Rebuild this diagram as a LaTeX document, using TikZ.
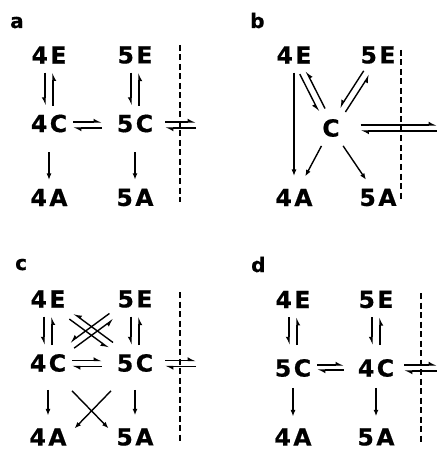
\documentclass[tikz,border=0pt]{standalone}
\usepackage{fontspec}
\setmainfont{DejaVu Sans}[BoldFeatures={FakeBold=0.6}]
\usetikzlibrary{arrows.meta,calc}

\newcommand{\gap}{\hspace{2.5bp}}

\begin{document}
\begin{tikzpicture}[
  x=1bp, y=-1bp,
  spec/.style={inner sep=0pt, outer xsep=6bp, outer ysep=9bp,
               font=\fontsize{23.5bp}{26bp}\selectfont\bfseries},
  tag/.style={anchor=base west, inner sep=0pt,
              font=\fontsize{20bp}{22bp}\selectfont\bfseries},
  rxn/.style={line width=1.4bp, -{Latex[length=6.5bp,width=5bp]}},
  hl/.style={line width=1.4bp, -{Latex[length=6.5bp,width=7bp,left]}},
  hr/.style={line width=1.4bp, -{Latex[length=6.5bp,width=7bp,right]}},
  wall/.style={line width=1.2bp, dash pattern=on 6bp off 3.5bp},
]
\useasboundingbox (0,0) rectangle (437,450);

% panel a
\node[tag] (ta) at (10,28) {a};
\node[spec] (a4E) at (49,55)     {4\gap E};
\node[spec] (a5E) at (135,55)    {5\gap E};
\node[spec] (a4C) at (49,123.5)  {4\gap C};
\node[spec] (a5C) at (135,123.5) {5\gap C};
\node[spec] (a4A) at (49,197.5)  {4\gap A};
\node[spec] (a5A) at (135,197.5) {5\gap A};
\coordinate (aout) at (196,123.5);

\draw[hr, transform canvas={xshift=-4bp}] (a4E) -- (a4C);
\draw[hr, transform canvas={xshift=4bp}]  (a4C) -- (a4E);
\draw[hr, transform canvas={xshift=-4bp}] (a5E) -- (a5C);
\draw[hr, transform canvas={xshift=4bp}]  (a5C) -- (a5E);
\draw[hl, transform canvas={yshift=1.5bp}, shorten >=9bp]  (a4C) -- (a5C);
\draw[hl, transform canvas={yshift=-4.5bp}, shorten <=9bp] (a5C) -- (a4C);
\draw[hl, transform canvas={yshift=1.5bp}, shorten <=6bp]  (a5C) -- (aout);
\draw[hl, transform canvas={yshift=-4.5bp}, shorten >=6bp] (aout) -- (a5C);
\draw[rxn, shorten <=11bp] (a4C) -- (a4A);
\draw[rxn, shorten <=11bp] (a5C) -- (a5A);
\draw[wall] (180,45) -- (180,202);

% panel b
\node[tag] (tb) at (250,28) {b};
\node[spec] (b4E) at (294,55)    {4\gap E};
\node[spec] (b5E) at (378,55)    {5\gap E};
\node[spec] (bC)  at (331,128)   {C};
\node[spec] (b4A) at (294,197.5) {4\gap A};
\node[spec] (b5A) at (378,197.5) {5\gap A};
\coordinate (bout) at (437,128);

\draw[rxn, shorten >=4bp] (b4E) -- (b4A);
\draw[hr, transform canvas={shift={(-3.1bp,-1.6bp)}}] (b4E) -- (bC);
\draw[hr, transform canvas={shift={(3.1bp,1.6bp)}}]   (bC) -- (b4E);
\draw[hr, transform canvas={shift={(-2.9bp,1.9bp)}}]  (b5E) -- (bC);
\draw[hr, transform canvas={shift={(2.9bp,-1.9bp)}}]  (bC) -- (b5E);
\draw[rxn, shorten >=4bp] (bC) -- (b4A);
\draw[rxn] (bC) -- (b5A);
\draw[hl, transform canvas={yshift=3bp}, shorten <=15bp]  (bC) -- (bout);
\draw[hl, transform canvas={yshift=-3bp}, shorten >=15bp] (bout) -- (bC);
\draw[wall] (401,50) -- (401,202);

% panel c
\node[tag] (tc) at (15,270) {c};
\node[spec] (c4E) at (48,299)  {4\gap E};
\node[spec] (c5E) at (135,299) {5\gap E};
\node[spec] (c4C) at (48,363)  {4\gap C};
\node[spec] (c5C) at (135,363) {5\gap C};
\node[spec] (c4A) at (48,437)  {4\gap A};
\node[spec] (c5A) at (135,437) {5\gap A};
\coordinate (cout) at (196,363);

\draw[hr, transform canvas={xshift=-4bp}] (c4E) -- (c4C);
\draw[hr, transform canvas={xshift=4bp}]  (c4C) -- (c4E);
\draw[hr, transform canvas={xshift=-4bp}] (c5E) -- (c5C);
\draw[hr, transform canvas={xshift=4bp}]  (c5C) -- (c5E);
\draw[hr, transform canvas={shift={(-2.1bp,-2.8bp)}}] (c4E) -- (c5C);
\draw[hr, transform canvas={shift={(2.1bp,2.8bp)}}]   (c5C) -- (c4E);
\draw[hr, transform canvas={shift={(-2.1bp,2.8bp)}}]  (c5E) -- (c4C);
\draw[hr, transform canvas={shift={(2.1bp,-2.8bp)}}]  (c4C) -- (c5E);
\draw[hl, transform canvas={yshift=2.5bp}, shorten >=9bp]  (c4C) -- (c5C);
\draw[hl, transform canvas={yshift=-3.5bp}, shorten <=9bp] (c5C) -- (c4C);
\draw[hl, transform canvas={yshift=2.5bp}, shorten <=6bp]  (c5C) -- (cout);
\draw[hl, transform canvas={yshift=-3.5bp}, shorten >=6bp] (cout) -- (c5C);
\draw[rxn, shorten <=9bp, shorten >=4bp] (c4C) -- (c4A);
\draw[rxn, shorten <=9bp, shorten >=4bp] (c5C) -- (c5A);
\draw[rxn] ($(c4C.south east)+(0,10)$) -- ($(c5A.north west)+(-2,9)$);
\draw[rxn] ($(c5C.south west)+(0,10)$) -- ($(c4A.north east)+(2,9)$);
\draw[wall] (180,292) -- (180,442);

% panel d
\node[tag] (td) at (251,272) {d};
\node[spec] (d4E) at (293,299.5) {4\gap E};
\node[spec] (d5E) at (376,299.5) {5\gap E};
\node[spec] (d5C) at (293,368)   {5\gap C};
\node[spec] (d4C) at (376,368)   {4\gap C};
\node[spec] (d4A) at (293,437)   {4\gap A};
\node[spec] (d5A) at (376,437)   {5\gap A};
\coordinate (dout) at (437,368);

\draw[hr, transform canvas={xshift=-4bp}, shorten >=5bp] (d4E) -- (d5C);
\draw[hr, transform canvas={xshift=4bp}, shorten <=5bp]  (d5C) -- (d4E);
\draw[hr, transform canvas={xshift=-4bp}, shorten >=5bp] (d5E) -- (d4C);
\draw[hr, transform canvas={xshift=4bp}, shorten <=5bp]  (d4C) -- (d5E);
\draw[hl, transform canvas={yshift=3bp}, shorten >=8bp]  (d5C) -- (d4C);
\draw[hl, transform canvas={yshift=-2bp}, shorten <=8bp] (d4C) -- (d5C);
\draw[hl, transform canvas={yshift=3bp}, shorten <=4bp]  (d4C) -- (dout);
\draw[hl, transform canvas={yshift=-3bp}, shorten >=4bp] (dout) -- (d4C);
\draw[rxn, shorten <=2bp, shorten >=3bp] (d5C) -- (d4A);
\draw[rxn, shorten <=2bp, shorten >=3bp] (d4C) -- (d5A);
\draw[wall] (421,293) -- (421,445);

\end{tikzpicture}
\end{document}
